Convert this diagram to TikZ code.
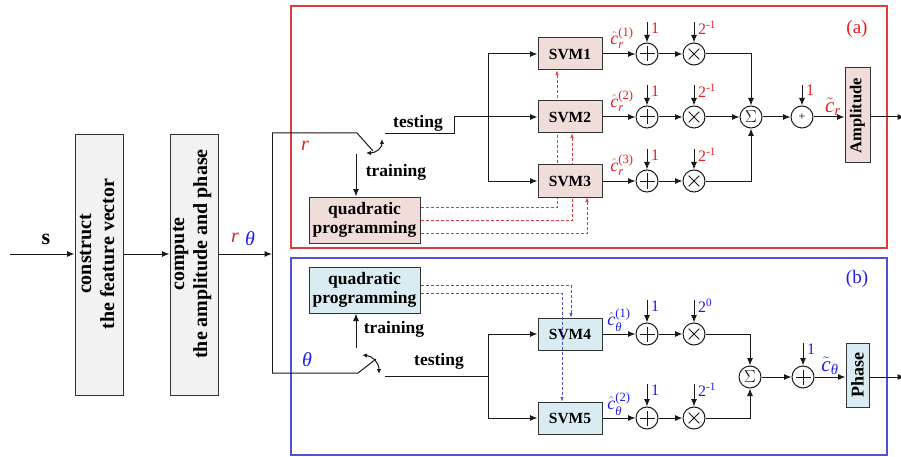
\documentclass[tikz,border=0pt]{standalone}
\usepackage{amsmath}
\usepackage{fontspec}
\setmainfont{Liberation Serif}
\usetikzlibrary{arrows.meta,calc}

\definecolor{redframe}{RGB}{222,60,60}
\definecolor{blueframe}{RGB}{80,80,215}
\definecolor{pinkfill}{RGB}{240,220,216}
\definecolor{cyanfill}{RGB}{216,236,242}
\definecolor{grayfill}{RGB}{242,242,242}
\definecolor{txtred}{RGB}{232,30,30}
\definecolor{txtblue}{RGB}{30,30,232}

\pgfdeclarelayer{behind}
\pgfsetlayers{behind,main}

% estimate labels: hat c with a subscript and a bracketed index
\newcommand\chatlbl[2]{$\hat{\text{\itshape c}}_{\text{\itshape #1}}^{\text{(#2)}}$}
\newcommand\ctildelbl[1]{$\tilde{\text{\itshape c}}_{\text{\itshape #1}}$}

\tikzset{
  blockbase/.style={draw=black!80, line width=1pt, inner sep=0pt},
  graybox/.style={blockbase, fill=grayfill},
  pinkbox/.style={blockbase, fill=pinkfill},
  cyanbox/.style={blockbase, fill=cyanfill},
  svmbox/.style={minimum width=64pt, minimum height=32pt,
    font=\fontsize{15.5}{16}\selectfont\bfseries},
  qpbox/.style={minimum width=111pt, minimum height=46pt, align=center,
    font=\fontsize{17.5}{19}\selectfont\bfseries},
  vtext/.style={rotate=90, align=center, font=\fontsize{20}{23}\selectfont\bfseries},
  word/.style={font=\fontsize{17.5}{19}\selectfont\bfseries},
  wire/.style={draw=black!90, line width=1pt},
  arr/.style={wire, -{Latex[length=7.5pt,width=6pt]}},
  dblarr/.style={draw=black!90, line width=1pt,
    {Latex[length=5pt,width=4.5pt]}-{Latex[length=5pt,width=4.5pt]}},
  dasharr/.style={dash pattern=on 3pt off 2pt, line width=0.6pt,
    -{Latex[length=4.5pt,width=3.5pt]}},
  opcirc/.style={circle, draw=black!90, fill=white, line width=1pt,
    minimum size=22pt, inner sep=0pt},
  addop/.style={opcirc, path picture={
    \draw[line width=1pt] ([xshift=-7.5pt]path picture bounding box.center)
      -- ([xshift=7.5pt]path picture bounding box.center)
      ([yshift=-7.5pt]path picture bounding box.center)
      -- ([yshift=7.5pt]path picture bounding box.center);}},
  mulop/.style={opcirc, path picture={
    \draw[line width=1pt] ([shift={(-5.3pt,-5.3pt)}]path picture bounding box.center)
      -- ([shift={(5.3pt,5.3pt)}]path picture bounding box.center)
      ([shift={(-5.3pt,5.3pt)}]path picture bounding box.center)
      -- ([shift={(5.3pt,-5.3pt)}]path picture bounding box.center);}},
  sumop/.style={opcirc, font=\fontsize{17}{17}\selectfont},
  numred/.style={text=txtred, font=\fontsize{16}{16}\selectfont, inner sep=0pt, anchor=west},
  numblue/.style={text=txtblue, font=\fontsize{16}{16}\selectfont, inner sep=0pt, anchor=west},
  symred/.style={text=txtred, font=\fontsize{18}{18}\selectfont, inner sep=0pt},
  symblue/.style={text=txtblue, font=\fontsize{18}{18}\selectfont, inner sep=0pt},
}

\begin{document}
\begin{tikzpicture}[x=1pt,y=-1pt]
\useasboundingbox (0,0) rectangle (901,457);

% ---------- frames of the two branches ----------
\node[draw=redframe, line width=1.2pt, minimum width=596pt, minimum height=242pt,
      inner sep=0pt] (frameA) at (589,127) {};
\node[draw=blueframe, line width=1.2pt, minimum width=596pt, minimum height=197pt,
      inner sep=0pt] (frameB) at (589,356.5) {};
\node[text=txtred, font=\fontsize{19}{19}\selectfont] (tagA) at (857,29) {(a)};
\node[text=txtblue, font=\fontsize{19}{19}\selectfont] (tagB) at (857,279) {(b)};

% ---------- front end ----------
\node[graybox, minimum width=48pt, minimum height=260pt] (fv) at (99,265) {};
\node[vtext] (fvtext) at (97,254) {construct\\the feature vector};
\node[graybox, minimum width=48pt, minimum height=260pt] (ap) at (194,265) {};
\node[vtext] (aptext) at (192,254) {compute\\the amplitude and phase};

\coordinate (sin) at (10,254);
\coordinate (split) at (272,254);
\node[font=\fontsize{22}{22}\selectfont\bfseries] (slbl) at (46,239) {s};
\draw[arr] (sin) -- (fv.west |- sin);
\draw[arr] (fv.east |- sin) -- (ap.west |- sin);
\draw[arr] (ap.east |- sin) -- (split);
\node[text=txtred, font=\fontsize{20}{20}\selectfont\itshape] (rlbl) at (235,238) {r};
\node[text=txtblue, font=\fontsize{20}{20}\selectfont\itshape] (tlbl) at (250,239) {θ};

\coordinate (rs0) at (272,133);
\coordinate (bs0) at (272,373);
\draw[wire] (rs0) -- (bs0);

% ---------- branch (a): amplitude ----------
\node[text=txtred, font=\fontsize{20}{20}\selectfont\itshape] (rin) at (305,146) {r};
\coordinate (rs1) at (357,133);
\coordinate (rs2) at (373,151);
\draw[wire] (rs0) -- (rs1) -- (rs2);
\draw[dblarr] (366,153) .. controls (376,153) and (382,148) .. (382,139);

\node[pinkbox, qpbox] (qpa) at (364.5,220) {quadratic\\programming};
\node[pinkbox, svmbox] (svm1) at (570,54) {SVM1};
\node[pinkbox, svmbox] (svm2) at (570,117) {SVM2};
\node[pinkbox, svmbox] (svm3) at (570,181) {SVM3};

\coordinate (rtest0) at (385,134);
\coordinate (rtest1) at (454,134);
\coordinate (rdist) at (488,117);
\draw[arr] (rtest0) -- (rtest1) |- (svm2.west);
\draw[arr] (rdist) |- (svm1.west);
\draw[arr] (rdist) |- (svm3.west);
\node[word] (rtestlbl) at (418,123) {testing};

\coordinate (rtrain) at (356,154);
\draw[arr] (rtrain) -- (rtrain |- qpa.north);
\node[word] (rtrainlbl) at (396,172) {training};

% training links run behind the SVM blocks
\coordinate (qa1) at (0,207);
\coordinate (qa2) at (0,220);
\coordinate (qa3) at (0,233);
\begin{pgfonlayer}{behind}
\draw[dasharr, draw=redframe] (qpa.east |- qa1) -| ([xshift=-13pt]svm1.south);
\draw[dasharr, draw=redframe] (qpa.east |- qa2) -| ([xshift=2pt]svm2.south);
\draw[dasharr, draw=redframe] (qpa.east |- qa3) -| ([xshift=17pt]svm3.south);
\end{pgfonlayer}

\foreach \k/\y/\e in {1/54/{2\textsuperscript{-1}},2/117/{2\textsuperscript{-1}},3/181/{2\textsuperscript{-1}}}{
  \node[addop] (ra\k) at (647,\y) {};
  \node[mulop] (rm\k) at (694,\y) {};
  \draw[arr] (svm\k.east) -- (ra\k.west);
  \draw[arr] (ra\k.east) -- (rm\k.west);
  \coordinate (rai\k) at (647,\y-32);
  \coordinate (rmi\k) at (694,\y-32);
  \draw[arr] (rai\k) -- (ra\k.north);
  \draw[arr] (rmi\k) -- (rm\k.north);
  \node[numred] (ran\k) at (651,\y-26) {1};
  \node[numred] (rmn\k) at (698,\y-26) {\e};
  \node[symred] (rch\k) at (622,\y-16) {\chatlbl{r}{\k}};
}
\node[sumop] (rsum) at (751,117) {$\Sigma$};
\node[opcirc, font=\fontsize{12}{12}\selectfont] (rfin) at (802,117) {+};
\node[pinkbox, minimum width=25pt, minimum height=95pt] (amp) at (857.5,115.5) {};
\node[rotate=90, font=\fontsize{16.5}{17}\selectfont\bfseries] (amptext) at (857.5,115.5) {Amplitude};
\draw[arr] (rm1.east) -| (rsum.north);
\draw[arr] (rm2.east) -- (rsum.west);
\draw[arr] (rm3.east) -| (rsum.south);
\draw[arr] (rsum.east) -- (rfin.west);
\coordinate (rfi) at (802,85);
\draw[arr] (rfi) -- (rfin.north);
\node[numred] (rfn) at (806,90) {1};
\draw[arr] (rfin.east) -- (amp.west |- rfin);
\node[symred, font=\fontsize{21}{21}\selectfont] (rtil) at (833,107) {\ctildelbl{r}};
\coordinate (rout) at (905,117);
\draw[arr] (amp.east |- rfin) -- (rout);

% ---------- branch (b): phase ----------
\node[text=txtblue, font=\fontsize{20}{20}\selectfont\itshape] (tin) at (307,360) {θ};
\coordinate (bs1) at (358,373);
\coordinate (bs2) at (376,359);
\draw[wire] (bs0) -- (bs1) -- (bs2);
\draw[dblarr] (362,355) .. controls (372,356) and (379,362) .. (379,374);

\node[cyanbox, qpbox] (qpb) at (364.5,290) {quadratic\\programming};
\node[cyanbox, svmbox] (svm4) at (570,334) {SVM4};
\node[cyanbox, svmbox] (svm5) at (570,418) {SVM5};

\coordinate (btest0) at (385,376);
\coordinate (bdist) at (488,376);
\draw[wire] (btest0) -- (bdist);
\draw[arr] (bdist) |- (svm4.west);
\draw[arr] (bdist) |- (svm5.west);
\node[word] (btestlbl) at (439,361) {testing};

\coordinate (btrain) at (356,348);
\draw[arr] (btrain) -- (btrain |- qpb.south);
\node[word] (btrainlbl) at (394,329) {training};

\coordinate (qb1) at (0,285);
\coordinate (qb2) at (0,293);
\draw[dasharr, draw=blueframe] (qpb.east |- qb1) -| ([xshift=1pt]svm4.north);
\draw[dasharr, draw=blueframe] (qpb.east |- qb2) -| ([xshift=-8pt]svm5.north);

\foreach \k/\s/\y/\e in {1/4/334/{2\textsuperscript{0}},2/5/418/{2\textsuperscript{-1}}}{
  \node[addop] (ba\k) at (647,\y) {};
  \node[mulop] (bm\k) at (694,\y) {};
  \draw[arr] (svm\s.east) -- (ba\k.west);
  \draw[arr] (ba\k.east) -- (bm\k.west);
  \coordinate (bai\k) at (647,\y-34);
  \coordinate (bmi\k) at (694,\y-34);
  \draw[arr] (bai\k) -- (ba\k.north);
  \draw[arr] (bmi\k) -- (bm\k.north);
  \node[numblue] (ban\k) at (651,\y-28) {1};
  \node[numblue] (bmn\k) at (698,\y-28) {\e};
  \node[symblue] (bch\k) at (619,\y-14) {\chatlbl{θ}{\k}};
}
\node[sumop] (bsum) at (750,377) {$\Sigma$};
\node[addop] (bfin) at (803,377) {};
\node[cyanbox, minimum width=23pt, minimum height=64pt] (pha) at (857.5,375) {};
\node[rotate=90, font=\fontsize{18}{18}\selectfont\bfseries] (phatext) at (857.5,375) {Phase};
\draw[arr] (bm1.east) -| (bsum.north);
\draw[arr] (bm2.east) -| (bsum.south);
\draw[arr] (bsum.east) -- (bfin.west);
\coordinate (bfi) at (803,343);
\draw[arr] (bfi) -- (bfin.north);
\node[numblue] (bfn) at (807,349) {1};
\draw[arr] (bfin.east) -- (pha.west |- bfin);
\node[symblue, font=\fontsize{21}{21}\selectfont] (btil) at (830,366) {\ctildelbl{θ}};
\coordinate (bout) at (905,377);
\draw[arr] (pha.east |- bfin) -- (bout);

\end{tikzpicture}
\end{document}
